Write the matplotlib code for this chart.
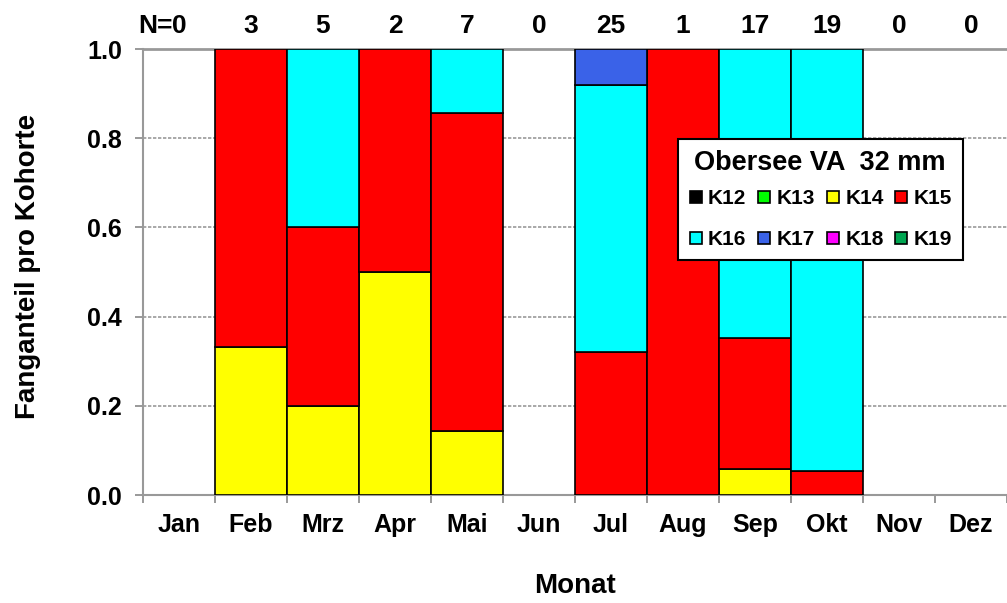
import matplotlib
matplotlib.use("Agg")
import matplotlib.pyplot as plt
from matplotlib.lines import Line2D
import numpy as np

plt.rcParams['font.family'] = ['Liberation Sans', 'DejaVu Sans']
plt.rcParams['font.weight'] = 'bold'

months = ["Jan", "Feb", "Mrz", "Apr", "Mai", "Jun", "Jul", "Aug", "Sep", "Okt", "Nov", "Dez"]
n_values = ["0", "3", "5", "2", "7", "0", "25", "1", "17", "19", "0", "0"]
cohorts = ["K12", "K13", "K14", "K15", "K16", "K17", "K18", "K19"]
colors = ["#000000", "#00ff00", "#ffff00", "#ff0000", "#00ffff", "#3a62e8", "#ff00ff", "#00a651"]

K12 = [0, 0, 0, 0, 0, 0, 0, 0, 0, 0, 0, 0]
K13 = [0, 0, 0, 0, 0, 0, 0, 0, 0, 0, 0, 0]
K14 = [0, 0.333, 0.2, 0.5, 0.143, 0, 0, 0, 0.059, 0, 0, 0]
K15 = [0, 0.667, 0.4, 0.5, 0.714, 0, 0.32, 1.0, 0.294, 0.053, 0, 0]
K16 = [0, 0, 0.4, 0, 0.143, 0, 0.60, 0, 0.647, 0.947, 0, 0]
K17 = [0, 0, 0, 0, 0, 0, 0.08, 0, 0, 0, 0, 0]
K18 = [0, 0, 0, 0, 0, 0, 0, 0, 0, 0, 0, 0]
K19 = [0, 0, 0, 0, 0, 0, 0, 0, 0, 0, 0, 0]
series = [K12, K13, K14, K15, K16, K17, K18, K19]

fig = plt.figure(figsize=(10.07, 6.03), dpi=100)
ax = fig.add_axes([0.142, 0.179, 0.858, 0.7397])

x = np.arange(len(months))
bottom = np.zeros(len(months))
for name, vals, c in zip(cohorts, series, colors):
    v = np.array(vals, dtype=float)
    mask = v > 0
    ax.bar(x[mask], v[mask], width=1.0, bottom=bottom[mask], color=c,
           edgecolor="black", linewidth=1.2, zorder=3)
    bottom += v

ax.set_xlim(-0.5, 11.5)
ax.set_ylim(0, 1.0)
ax.set_yticks([0, 0.2, 0.4, 0.6, 0.8, 1.0])
ax.set_yticklabels(["0.0", "0.2", "0.4", "0.6", "0.8", "1.0"])
ax.set_xticks(x)
ax.set_xticklabels(months)
ax.set_xticks(np.arange(-0.5, 12, 1), minor=True)
ax.tick_params(axis='x', which='major', length=0, pad=13, labelsize=18)
ax.tick_params(axis='x', which='minor', length=6, width=1.2, color="#888888", direction='out')
ax.tick_params(axis='y', length=6, width=1.2, color="#888888", direction='out', labelsize=18, pad=9)

for yv in [0.2, 0.4, 0.6, 0.8]:
    ax.axhline(yv, color="#999999", linestyle=(0, (2, 1)), linewidth=1.2, zorder=1)
ax.axhline(1.0, color="#999999", linewidth=2, zorder=1, clip_on=False)

for s in ["top", "right"]:
    ax.spines[s].set_visible(False)
for s in ["left", "bottom"]:
    ax.spines[s].set_color("#999999")
    ax.spines[s].set_linewidth(1.5)

trans = ax.get_xaxis_transform()
for i, (xi, lab) in enumerate(zip(x, n_values)):
    ax.text(xi, 1.025, lab, ha="center", va="bottom", fontsize=19, fontweight="bold",
            transform=trans)
    if i == 0:
        ax.annotate("N=", xy=(xi, 1.025), xycoords=trans, xytext=(-4.5, 0),
                    textcoords="offset points", ha="right", va="bottom",
                    fontsize=19, fontweight="bold", annotation_clip=False)

ax.set_ylabel("Fanganteil pro Kohorte", fontsize=20, fontweight="bold")
ax.yaxis.set_label_coords(-0.118, 0.513)
ax.set_xlabel("Monat", fontsize=20, fontweight="bold", labelpad=26)

# legend filled column-wise by matplotlib -> reorder so rows read K12..K15 / K16..K19
order = [0, 4, 1, 5, 2, 6, 3, 7]
handles = [Line2D([], [], marker='s', linestyle='none', markersize=8.5,
                  markerfacecolor=colors[i], markeredgecolor="black", markeredgewidth=1.2)
           for i in order]
labels = [cohorts[i] for i in order]
leg = ax.legend(handles, labels, ncol=4, title="Obersee VA  32 mm",
                loc="upper left", bbox_to_anchor=(0.619, 0.798), bbox_transform=ax.transAxes,
                fontsize=15, title_fontsize=19.5, frameon=True, fancybox=False, framealpha=1,
                handletextpad=0.25, columnspacing=0.5, handlelength=0.7,
                labelspacing=1.05, borderpad=0.5, borderaxespad=0)
leg.get_title().set_fontweight("bold")
leg.get_frame().set_edgecolor("black")
leg.get_frame().set_linewidth(1.5)
leg.set_zorder(5)
try:
    leg._legend_box.sep = 10
except Exception:
    pass

fig.savefig("out.png", dpi=100)
